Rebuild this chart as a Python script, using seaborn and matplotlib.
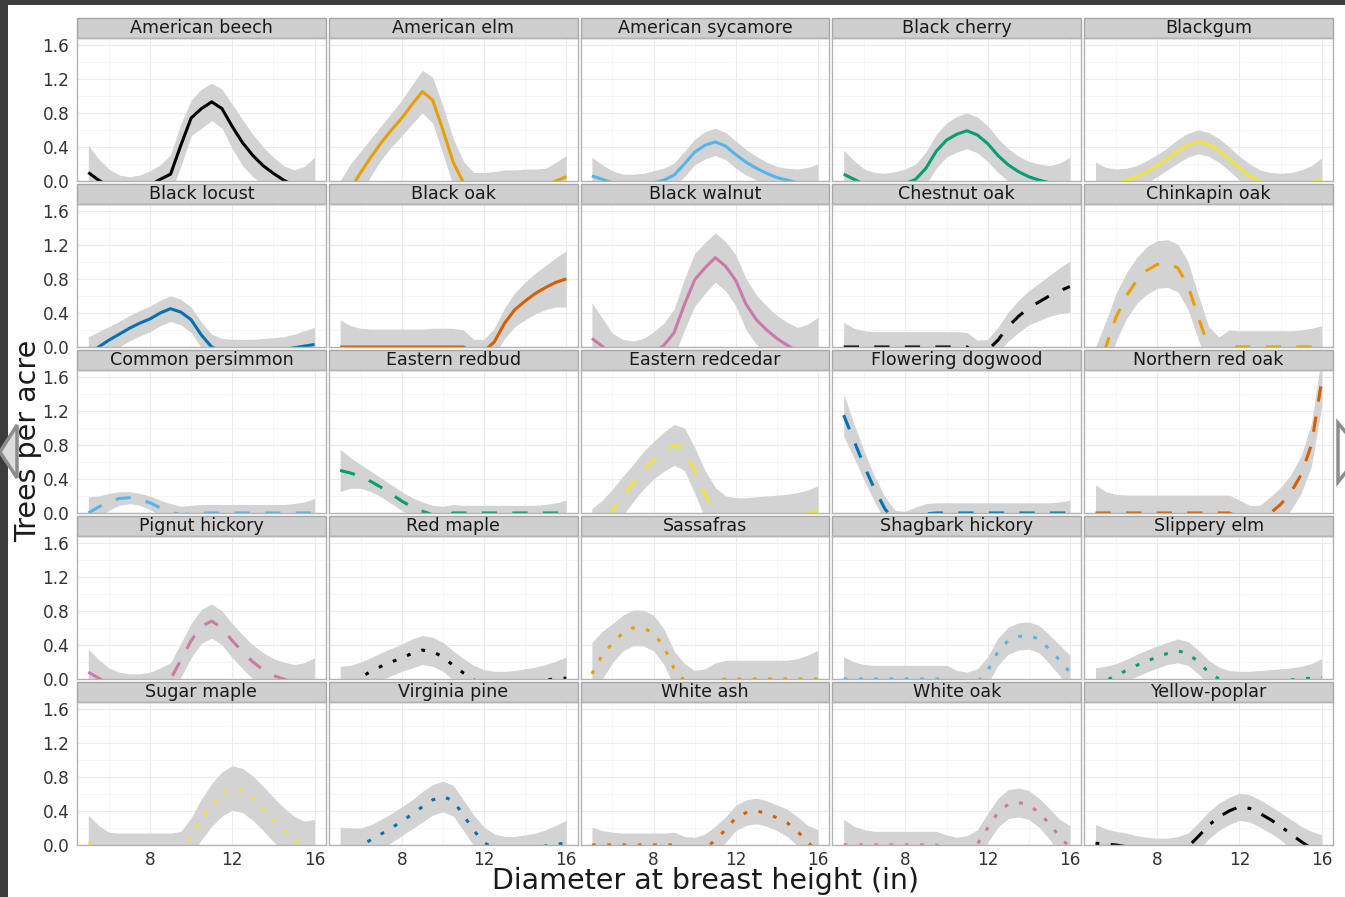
import matplotlib
matplotlib.use("Agg")
import matplotlib.pyplot as plt
from matplotlib.patches import Rectangle, Polygon
from matplotlib.ticker import MultipleLocator, FormatStrFormatter
import pandas as pd
import seaborn as sns

# ---------------------------
# Data: loess fit and band half-width per species
# ---------------------------
dbh = [5.0, 5.5, 6.0, 6.5, 7.0, 7.5, 8.0, 8.5, 9.0, 9.5, 10.0, 10.5,
       11.0, 11.5, 12.0, 12.5, 13.0, 13.5, 14.0, 14.5, 15.0, 15.5, 16.0]

american_beech_fit = [0.10, 0.01, -0.06, -0.10, -0.12, -0.10, -0.05, 0.02, 0.08, 0.42, 0.74, 0.85, 0.93, 0.85, 0.64, 0.45, 0.30, 0.18, 0.09, 0.01, -0.05, -0.08, -0.10]
american_beech_se = [0.32, 0.25, 0.20, 0.17, 0.17, 0.17, 0.17, 0.17, 0.23, 0.25, 0.21, 0.23, 0.22, 0.23, 0.26, 0.27, 0.25, 0.22, 0.19, 0.17, 0.18, 0.25, 0.38]

american_elm_fit = [-0.35, -0.10, 0.10, 0.28, 0.45, 0.60, 0.74, 0.90, 1.05, 0.95, 0.60, 0.22, -0.02, -0.15, -0.20, -0.22, -0.20, -0.17, -0.13, -0.09, -0.05, 0.00, 0.05]
american_elm_se = [0.35, 0.30, 0.25, 0.22, 0.20, 0.20, 0.21, 0.23, 0.25, 0.27, 0.28, 0.28, 0.25, 0.25, 0.30, 0.33, 0.33, 0.30, 0.27, 0.23, 0.20, 0.22, 0.25]

american_sycamore_fit = [0.06, 0.02, -0.02, -0.05, -0.06, -0.05, -0.02, 0.01, 0.07, 0.20, 0.34, 0.42, 0.46, 0.41, 0.31, 0.22, 0.15, 0.09, 0.04, 0.01, -0.02, -0.03, -0.04]
american_sycamore_se = [0.22, 0.17, 0.14, 0.13, 0.14, 0.14, 0.14, 0.14, 0.14, 0.15, 0.15, 0.16, 0.16, 0.16, 0.16, 0.15, 0.14, 0.13, 0.13, 0.14, 0.16, 0.19, 0.24]

black_cherry_fit = [0.08, 0.02, -0.04, -0.07, -0.08, -0.06, -0.03, 0.02, 0.15, 0.35, 0.48, 0.55, 0.59, 0.54, 0.44, 0.30, 0.19, 0.11, 0.05, 0.01, -0.02, -0.04, -0.05]
black_cherry_se = [0.28, 0.22, 0.18, 0.17, 0.17, 0.17, 0.17, 0.18, 0.19, 0.20, 0.20, 0.21, 0.21, 0.21, 0.21, 0.20, 0.19, 0.18, 0.18, 0.19, 0.20, 0.25, 0.33]

blackgum_fit = [-0.06, -0.04, -0.02, 0.01, 0.05, 0.11, 0.18, 0.26, 0.35, 0.42, 0.46, 0.43, 0.36, 0.26, 0.15, 0.06, -0.01, -0.05, -0.07, -0.07, -0.05, -0.02, 0.02]
blackgum_se = [0.28, 0.20, 0.16, 0.14, 0.13, 0.13, 0.13, 0.13, 0.14, 0.14, 0.14, 0.14, 0.14, 0.14, 0.14, 0.14, 0.14, 0.15, 0.16, 0.17, 0.18, 0.20, 0.25]

black_locust_fit = [-0.10, 0.00, 0.08, 0.15, 0.22, 0.28, 0.33, 0.40, 0.45, 0.41, 0.32, 0.14, 0.00, -0.05, -0.06, -0.06, -0.06, -0.05, -0.04, -0.03, -0.01, 0.01, 0.03]
black_locust_se = [0.22, 0.18, 0.16, 0.15, 0.15, 0.15, 0.15, 0.15, 0.15, 0.15, 0.15, 0.15, 0.15, 0.15, 0.15, 0.15, 0.15, 0.15, 0.15, 0.15, 0.16, 0.18, 0.20]

black_oak_fit = [0.0, 0.0, 0.0, 0.0, 0.0, 0.0, 0.0, 0.0, 0.0, 0.0, 0.0, 0.0, 0.0, -0.08, -0.05, 0.06, 0.28, 0.44, 0.54, 0.63, 0.70, 0.76, 0.80]
black_oak_se = [0.32, 0.25, 0.22, 0.21, 0.21, 0.21, 0.21, 0.21, 0.21, 0.22, 0.22, 0.22, 0.20, 0.17, 0.14, 0.16, 0.18, 0.20, 0.22, 0.24, 0.26, 0.29, 0.33]

black_walnut_fit = [0.10, 0.01, -0.10, -0.16, -0.18, -0.15, -0.07, 0.02, 0.17, 0.50, 0.79, 0.93, 1.05, 0.95, 0.78, 0.50, 0.32, 0.20, 0.10, 0.02, -0.05, -0.08, -0.10]
black_walnut_se = [0.42, 0.33, 0.26, 0.25, 0.25, 0.25, 0.25, 0.26, 0.28, 0.30, 0.31, 0.30, 0.29, 0.29, 0.30, 0.30, 0.29, 0.28, 0.27, 0.27, 0.28, 0.35, 0.45]

chestnut_oak_fit = [0.0, 0.0, 0.0, 0.0, 0.0, 0.0, 0.0, 0.0, 0.0, 0.0, 0.0, 0.0, 0.0, -0.08, -0.04, 0.08, 0.24, 0.36, 0.46, 0.53, 0.60, 0.66, 0.71]
chestnut_oak_se = [0.29, 0.22, 0.19, 0.18, 0.18, 0.18, 0.18, 0.18, 0.18, 0.18, 0.18, 0.18, 0.17, 0.16, 0.13, 0.15, 0.17, 0.19, 0.20, 0.22, 0.24, 0.27, 0.30]

chinkapin_oak_fit = [-0.40, 0.00, 0.35, 0.60, 0.78, 0.90, 0.97, 0.98, 0.93, 0.72, 0.35, 0.00, -0.10, 0.0, 0.0, 0.0, 0.0, 0.0, 0.0, 0.0, 0.0, 0.0, 0.0]
chinkapin_oak_se = [0.40, 0.30, 0.28, 0.27, 0.27, 0.28, 0.28, 0.28, 0.28, 0.28, 0.26, 0.24, 0.22, 0.20, 0.19, 0.19, 0.19, 0.19, 0.19, 0.19, 0.20, 0.22, 0.25]

common_persimmon_fit = [0.00, 0.07, 0.13, 0.17, 0.18, 0.16, 0.12, 0.06, 0.01, -0.02, -0.01, 0.0, 0.0, 0.0, 0.0, 0.0, 0.0, 0.0, 0.0, 0.0, 0.0, 0.0, 0.0]
common_persimmon_se = [0.19, 0.13, 0.10, 0.08, 0.07, 0.07, 0.08, 0.09, 0.10, 0.10, 0.10, 0.10, 0.10, 0.10, 0.10, 0.10, 0.10, 0.10, 0.10, 0.10, 0.11, 0.13, 0.17]

eastern_redbud_fit = [0.50, 0.47, 0.43, 0.37, 0.30, 0.22, 0.14, 0.07, 0.02, -0.02, -0.03, 0.0, 0.0, 0.0, 0.0, 0.0, 0.0, 0.0, 0.0, 0.0, 0.0, 0.0, 0.0]
eastern_redbud_se = [0.25, 0.18, 0.14, 0.12, 0.11, 0.11, 0.11, 0.11, 0.11, 0.11, 0.11, 0.10, 0.09, 0.09, 0.09, 0.09, 0.09, 0.09, 0.09, 0.09, 0.10, 0.12, 0.15]

eastern_redcedar_fit = [-0.35, -0.15, 0.03, 0.20, 0.35, 0.50, 0.62, 0.72, 0.80, 0.75, 0.50, 0.22, 0.02, -0.08, -0.10, -0.10, -0.09, -0.08, -0.06, -0.04, -0.02, 0.00, 0.02]
eastern_redcedar_se = [0.40, 0.30, 0.25, 0.23, 0.22, 0.22, 0.22, 0.23, 0.24, 0.25, 0.27, 0.28, 0.28, 0.28, 0.28, 0.28, 0.28, 0.28, 0.27, 0.26, 0.26, 0.27, 0.30]

flowering_dogwood_fit = [1.15, 0.85, 0.55, 0.28, 0.05, -0.10, -0.10, -0.05, -0.01, 0.0, 0.0, 0.0, 0.0, 0.0, 0.0, 0.0, 0.0, 0.0, 0.0, 0.0, 0.0, 0.0, 0.0]
flowering_dogwood_se = [0.25, 0.20, 0.17, 0.15, 0.14, 0.13, 0.12, 0.12, 0.12, 0.12, 0.12, 0.12, 0.12, 0.12, 0.12, 0.12, 0.12, 0.12, 0.12, 0.12, 0.12, 0.13, 0.15]

northern_red_oak_fit = [0.0, 0.0, 0.0, 0.0, 0.0, 0.0, 0.0, 0.0, 0.0, 0.0, 0.0, 0.0, 0.0, 0.0, -0.05, -0.12, -0.10, 0.00, 0.10, 0.24, 0.45, 0.80, 1.55]
northern_red_oak_se = [0.33, 0.25, 0.22, 0.21, 0.21, 0.21, 0.21, 0.21, 0.21, 0.21, 0.21, 0.21, 0.21, 0.21, 0.20, 0.21, 0.19, 0.19, 0.20, 0.21, 0.22, 0.25, 0.30]

pignut_hickory_fit = [0.08, 0.01, -0.06, -0.10, -0.12, -0.12, -0.10, -0.05, 0.00, 0.22, 0.45, 0.62, 0.68, 0.60, 0.45, 0.32, 0.20, 0.11, 0.04, 0.00, -0.04, -0.06, -0.07]
pignut_hickory_se = [0.27, 0.22, 0.19, 0.18, 0.18, 0.18, 0.18, 0.18, 0.19, 0.20, 0.20, 0.20, 0.20, 0.20, 0.20, 0.20, 0.20, 0.20, 0.20, 0.20, 0.21, 0.25, 0.32]

red_maple_fit = [-0.15, -0.06, 0.02, 0.09, 0.15, 0.20, 0.25, 0.30, 0.34, 0.32, 0.26, 0.16, 0.07, -0.01, -0.06, -0.08, -0.08, -0.07, -0.05, -0.03, -0.01, 0.00, 0.01]
red_maple_se = [0.30, 0.22, 0.18, 0.16, 0.16, 0.16, 0.16, 0.17, 0.17, 0.17, 0.17, 0.17, 0.17, 0.17, 0.17, 0.17, 0.17, 0.17, 0.17, 0.17, 0.18, 0.21, 0.25]

sassafras_fit = [0.06, 0.28, 0.42, 0.54, 0.60, 0.60, 0.54, 0.38, 0.12, -0.02, -0.10, -0.08, -0.02, 0.0, 0.0, 0.0, 0.0, 0.0, 0.0, 0.0, 0.0, 0.0, 0.0]
sassafras_se = [0.37, 0.28, 0.23, 0.21, 0.21, 0.21, 0.21, 0.21, 0.21, 0.20, 0.20, 0.20, 0.21, 0.22, 0.22, 0.22, 0.22, 0.22, 0.22, 0.22, 0.24, 0.28, 0.34]

shagbark_hickory_fit = [0.0, 0.0, 0.0, 0.0, 0.0, 0.0, 0.0, 0.0, 0.0, 0.0, 0.0, -0.06, -0.08, -0.04, 0.10, 0.32, 0.45, 0.50, 0.51, 0.47, 0.35, 0.22, 0.08]
shagbark_hickory_se = [0.26, 0.20, 0.17, 0.16, 0.16, 0.16, 0.16, 0.16, 0.16, 0.16, 0.16, 0.16, 0.16, 0.16, 0.16, 0.16, 0.16, 0.16, 0.16, 0.16, 0.17, 0.18, 0.20]

slippery_elm_fit = [-0.10, -0.02, 0.04, 0.10, 0.16, 0.21, 0.26, 0.30, 0.33, 0.30, 0.20, 0.08, 0.00, -0.04, -0.05, -0.05, -0.04, -0.03, -0.02, -0.01, 0.00, 0.01, 0.02]
slippery_elm_se = [0.23, 0.17, 0.14, 0.13, 0.13, 0.13, 0.13, 0.13, 0.14, 0.14, 0.14, 0.14, 0.14, 0.14, 0.14, 0.14, 0.14, 0.14, 0.14, 0.14, 0.15, 0.17, 0.22]

sugar_maple_fit = [0.03, -0.02, -0.07, -0.10, -0.12, -0.13, -0.14, -0.13, -0.10, -0.04, 0.10, 0.30, 0.47, 0.60, 0.67, 0.64, 0.55, 0.43, 0.30, 0.18, 0.07, -0.02, -0.08]
sugar_maple_se = [0.32, 0.25, 0.22, 0.24, 0.26, 0.27, 0.28, 0.27, 0.24, 0.20, 0.22, 0.24, 0.25, 0.26, 0.26, 0.26, 0.26, 0.26, 0.26, 0.26, 0.27, 0.30, 0.38]

virginia_pine_fit = [-0.12, -0.05, 0.00, 0.06, 0.13, 0.20, 0.28, 0.36, 0.45, 0.53, 0.57, 0.52, 0.35, 0.17, 0.03, -0.05, -0.08, -0.08, -0.06, -0.04, -0.01, 0.01, 0.02]
virginia_pine_se = [0.33, 0.25, 0.20, 0.18, 0.17, 0.17, 0.17, 0.17, 0.18, 0.18, 0.18, 0.18, 0.18, 0.18, 0.18, 0.18, 0.18, 0.18, 0.18, 0.18, 0.19, 0.22, 0.27]

white_ash_fit = [0.0, 0.0, 0.0, 0.0, 0.0, 0.0, 0.0, 0.0, 0.0, -0.06, -0.09, -0.05, 0.06, 0.18, 0.32, 0.38, 0.40, 0.37, 0.32, 0.26, 0.16, 0.03, -0.08]
white_ash_se = [0.21, 0.17, 0.15, 0.14, 0.14, 0.14, 0.14, 0.14, 0.15, 0.16, 0.18, 0.18, 0.16, 0.15, 0.15, 0.15, 0.15, 0.15, 0.15, 0.16, 0.17, 0.20, 0.26]

white_oak_fit = [0.0, 0.0, 0.0, 0.0, 0.0, 0.0, 0.0, 0.0, 0.0, 0.0, -0.05, -0.08, -0.06, 0.01, 0.20, 0.38, 0.48, 0.50, 0.47, 0.38, 0.25, 0.10, -0.03]
white_oak_se = [0.30, 0.22, 0.18, 0.16, 0.16, 0.16, 0.16, 0.16, 0.16, 0.16, 0.17, 0.17, 0.17, 0.17, 0.17, 0.17, 0.17, 0.17, 0.17, 0.17, 0.18, 0.20, 0.26]

yellow_poplar_fit = [0.02, 0.01, 0.00, -0.02, -0.05, -0.07, -0.08, -0.08, -0.06, -0.02, 0.10, 0.23, 0.33, 0.40, 0.45, 0.43, 0.37, 0.30, 0.22, 0.13, 0.04, -0.04, -0.10]
yellow_poplar_se = [0.22, 0.18, 0.16, 0.16, 0.16, 0.16, 0.16, 0.16, 0.16, 0.16, 0.16, 0.16, 0.16, 0.16, 0.16, 0.16, 0.16, 0.16, 0.16, 0.17, 0.18, 0.20, 0.22]

species = ["American beech", "American elm", "American sycamore", "Black cherry", "Blackgum",
           "Black locust", "Black oak", "Black walnut", "Chestnut oak", "Chinkapin oak",
           "Common persimmon", "Eastern redbud", "Eastern redcedar", "Flowering dogwood", "Northern red oak",
           "Pignut hickory", "Red maple", "Sassafras", "Shagbark hickory", "Slippery elm",
           "Sugar maple", "Virginia pine", "White ash", "White oak", "Yellow-poplar"]

fits = [american_beech_fit, american_elm_fit, american_sycamore_fit, black_cherry_fit, blackgum_fit,
        black_locust_fit, black_oak_fit, black_walnut_fit, chestnut_oak_fit, chinkapin_oak_fit,
        common_persimmon_fit, eastern_redbud_fit, eastern_redcedar_fit, flowering_dogwood_fit, northern_red_oak_fit,
        pignut_hickory_fit, red_maple_fit, sassafras_fit, shagbark_hickory_fit, slippery_elm_fit,
        sugar_maple_fit, virginia_pine_fit, white_ash_fit, white_oak_fit, yellow_poplar_fit]

ses = [american_beech_se, american_elm_se, american_sycamore_se, black_cherry_se, blackgum_se,
       black_locust_se, black_oak_se, black_walnut_se, chestnut_oak_se, chinkapin_oak_se,
       common_persimmon_se, eastern_redbud_se, eastern_redcedar_se, flowering_dogwood_se, northern_red_oak_se,
       pignut_hickory_se, red_maple_se, sassafras_se, shagbark_hickory_se, slippery_elm_se,
       sugar_maple_se, virginia_pine_se, white_ash_se, white_oak_se, yellow_poplar_se]

# ---------------------------
# Long table for the facet grid
# ---------------------------
rows = []
for name, fit, se in zip(species, fits, ses):
    for x, f, s in zip(dbh, fit, se):
        rows.append((name, x, f, f - s, f + s))
df = pd.DataFrame(rows, columns=["species", "dbh", "tpa", "lower", "upper"])

# Okabe-Ito colours cycle, line type changes every 8 species
palette = ["#000000", "#E69F00", "#56B4E9", "#009E73", "#F0E442", "#0072B2", "#D55E00", "#CC79A7"]
linetypes = ["-", (0, (5, 5)), (0, (1.25, 3.75)), (0, (1.25, 3.75, 5, 3.75))]
line_color = {name: palette[i % 8] for i, name in enumerate(species)}
line_style = {name: linetypes[i // 8] for i, name in enumerate(species)}


def draw_panel(data, **kws):
    ax = plt.gca()
    name = data["species"].iloc[0]
    ax.fill_between(data["dbh"], data["lower"], data["upper"], color="#d3d3d3", lw=0, zorder=1.5)
    ax.plot(data["dbh"], data["tpa"], color=line_color[name], linestyle=line_style[name],
            lw=2.2, dash_capstyle="butt", solid_capstyle="butt", zorder=2)


sns.set_style("white")
plt.rcParams["font.family"] = ["DejaVu Sans"]

g = sns.FacetGrid(df, col="species", col_wrap=5, col_order=species,
                  sharex=True, sharey=True, height=1.6, aspect=1.74, despine=False)
g.map_dataframe(draw_panel)
g.set_titles("")
g.set_axis_labels("", "")

fig = g.figure
fig.set_size_inches(13.45, 8.97)
fig.subplots_adjust(left=77 / 1345, right=1333 / 1345, top=1 - 38 / 897, bottom=1 - 845 / 897,
                    wspace=0.012, hspace=0.161)

for i, ax in enumerate(g.axes.flat):
    ax.set_xlim(4.45, 16.55)
    ax.set_ylim(0, 1.68)
    ax.xaxis.set_major_locator(MultipleLocator(4))
    ax.xaxis.set_minor_locator(MultipleLocator(2))
    ax.yaxis.set_major_locator(MultipleLocator(0.4))
    ax.yaxis.set_minor_locator(MultipleLocator(0.2))
    ax.yaxis.set_major_formatter(FormatStrFormatter("%.1f"))
    ax.set_axisbelow(True)
    ax.grid(which="major", color="#ebebeb", lw=0.8)
    ax.grid(which="minor", color="#f4f4f4", lw=0.6)
    for sp in ax.spines.values():
        sp.set_color("#b3b3b3")
        sp.set_linewidth(1.0)
    ax.tick_params(which="minor", length=0)
    ax.tick_params(which="major", length=3.5, width=1, color="#333333",
                   labelsize=12.2, labelcolor="#333333", pad=2)
    ax.tick_params(axis="x", pad=0.5)
    if i % 5 != 0:
        ax.tick_params(axis="y", length=0)
    if i < 20:
        ax.tick_params(axis="x", length=0)

    # ggplot-like strip above each panel
    ax.add_patch(Rectangle((0, 1.0), 1, 0.14, transform=ax.transAxes, clip_on=False,
                           facecolor="#cfcfcf", edgecolor="#a6a6a6", lw=1.0))
    ax.text(0.5, 1.07, species[i], transform=ax.transAxes, ha="center", va="center",
            fontsize=12.6, color="#1a1a1a")

fig.text(705 / 1345, 1 - 889 / 897, "Diameter at breast height (in)",
         ha="center", va="baseline", fontsize=20.5, color="#1a1a1a")
fig.text(28 / 1345, 1 - 441 / 897, "Trees per acre", rotation=90,
         ha="center", va="center", fontsize=20.5, color="#1a1a1a")

# screenshot frame and slide arrows
fig.add_artist(Rectangle((0, 1 - 5 / 897), 1, 5 / 897, transform=fig.transFigure,
                         facecolor="#3c3c3c", edgecolor="none"))
fig.add_artist(Rectangle((0, 0), 8 / 1345, 1, transform=fig.transFigure,
                         facecolor="#3c3c3c", edgecolor="none"))
fig.add_artist(Polygon([(0 / 1345, 1 - 452 / 897), (17 / 1345, 1 - 425 / 897), (17 / 1345, 1 - 478 / 897)],
                       closed=True, transform=fig.transFigure, facecolor="#dcdcdc",
                       edgecolor="#8c8c8c", lw=2.5))
fig.add_artist(Polygon([(1338 / 1345, 1 - 423 / 897), (1338 / 1345, 1 - 482 / 897), (1362 / 1345, 1 - 452 / 897)],
                       closed=True, transform=fig.transFigure, facecolor="white",
                       edgecolor="#8c8c8c", lw=2.5))

fig.savefig("out.png", dpi=100)
